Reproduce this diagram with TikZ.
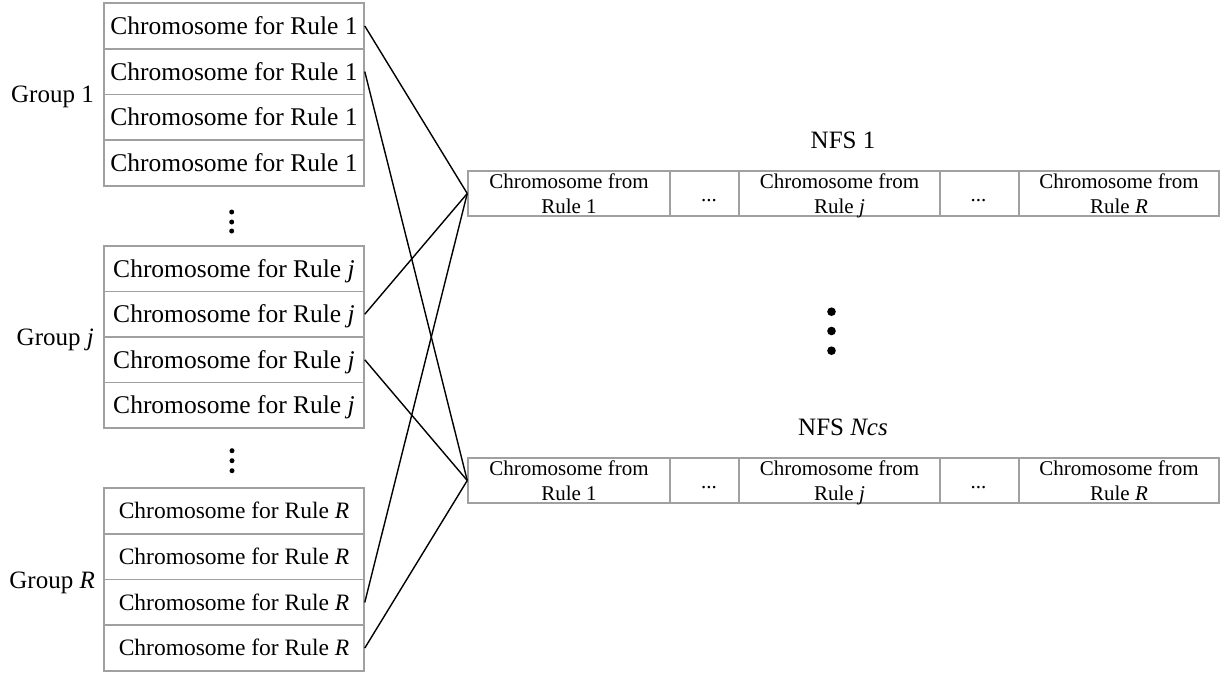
\documentclass[tikz,border=0pt]{standalone}
\usepackage{fontspec}
\setmainfont{Liberation Serif}
\usetikzlibrary{calc}
\definecolor{boxgray}{RGB}{160,160,160}
\tikzset{
  rowbox/.style={draw=boxgray, line width=1.5pt, minimum width=260pt,
    minimum height=45.75pt, inner sep=0pt, text depth=0pt},
  rowbig/.style={rowbox, font=\fontsize{25.5}{30}\selectfont, text height=17pt},
  rowsmall/.style={rowbox, font=\fontsize{23.5}{28}\selectfont, text height=15.7pt},
  grouplab/.style={inner sep=0pt, anchor=base east, font=\fontsize{25}{30}\selectfont},
  nfslab/.style={inner sep=0pt, anchor=base, font=\fontsize{25}{30}\selectfont},
  cellbox/.style={draw=boxgray, line width=1.5pt, minimum height=45pt, inner sep=0pt},
  celltxt/.style={inner sep=0pt, anchor=base, font=\fontsize{21}{25}\selectfont},
  conn/.style={draw=black, line width=1.4pt},
}
\begin{document}
\begin{tikzpicture}[x=1pt, y=-1pt]
\useasboundingbox (0,0) rectangle (1228,672);

% Group 1
\foreach \i/\y in {1/25.9, 2/71.6, 3/117.4, 4/163.1}
  \node[rowbig] (ga\i) at (234,\y) {Chromosome for Rule 1};
\node[grouplab] (laba) at (94,102.5) {Group 1};

% Group j
\foreach \i/\y in {1/268.75, 2/314.25, 3/359.75, 4/405.25}
  \node[rowbig] (gj\i) at (234,\y) {Chromosome for Rule \textit{j}};
\node[grouplab] (labj) at (94,345) {Group \textit{j}};

% Group R
\foreach \i/\y in {1/510.9, 2/556.6, 3/602.4, 4/648.1}
  \node[rowsmall] (gr\i) at (234,\y) {Chromosome for Rule \textit{R}};
\node[grouplab] (labr) at (95,588) {Group \textit{R}};

% vertical ellipses between the groups
\foreach \y in {212,222,231} \fill (231.7,\y) circle (2.5);
\foreach \y in {450.7,460.7,470.7} \fill (232,\y) circle (2.5);

% the two NFS chromosome rows
\foreach \n/\y in {top/193.5, bot/480.5}{
  \node[cellbox, minimum width=202pt] (\n-c1) at (569,\y) {};
  \node[cellbox, minimum width=69pt]  (\n-c2) at (704.5,\y) {};
  \node[cellbox, minimum width=201pt] (\n-c3) at (839.5,\y) {};
  \node[cellbox, minimum width=79pt]  (\n-c4) at (979.5,\y) {};
  \node[cellbox, minimum width=200pt] (\n-c5) at (1119,\y) {};
  \node[celltxt] (\n-t1a) at ($(\n-c1.center)+(0,-5.5)$) {Chromosome from};
  \node[celltxt] (\n-t1b) at ($(\n-c1.center)+(0,19.5)$) {Rule 1};
  \node[celltxt] (\n-t2)  at ($(\n-c2.center)+(4.5,8)$) {...};
  \node[celltxt] (\n-t3a) at ($(\n-c3.center)+(0,-5.5)$) {Chromosome from};
  \node[celltxt] (\n-t3b) at ($(\n-c3.center)+(0,19.5)$) {Rule \textit{j}};
  \node[celltxt] (\n-t4)  at ($(\n-c4.center)+(-1,8)$) {...};
  \node[celltxt] (\n-t5a) at ($(\n-c5.center)+(0,-5.5)$) {Chromosome from};
  \node[celltxt] (\n-t5b) at ($(\n-c5.center)+(0,19.5)$) {Rule \textit{R}};
}
\node[nfslab] (nfsa) at (843,148) {NFS 1};
\node[nfslab] (nfsb) at (843,435.5) {NFS \textit{Ncs}};

% ellipsis between the NFS rows
\foreach \y in {311.7,331,350.7} \fill (831.5,\y) circle (4.3);

% connections from the groups to the NFS rows
\draw[conn] (ga1.east) -- (top-c1.west);
\draw[conn] (gj2.east) -- (top-c1.west);
\draw[conn] (gr3.east) -- (top-c1.west);
\draw[conn] (ga2.east) -- (bot-c1.west);
\draw[conn] (gj3.east) -- (bot-c1.west);
\draw[conn] (gr4.east) -- (bot-c1.west);
\end{tikzpicture}
\end{document}
